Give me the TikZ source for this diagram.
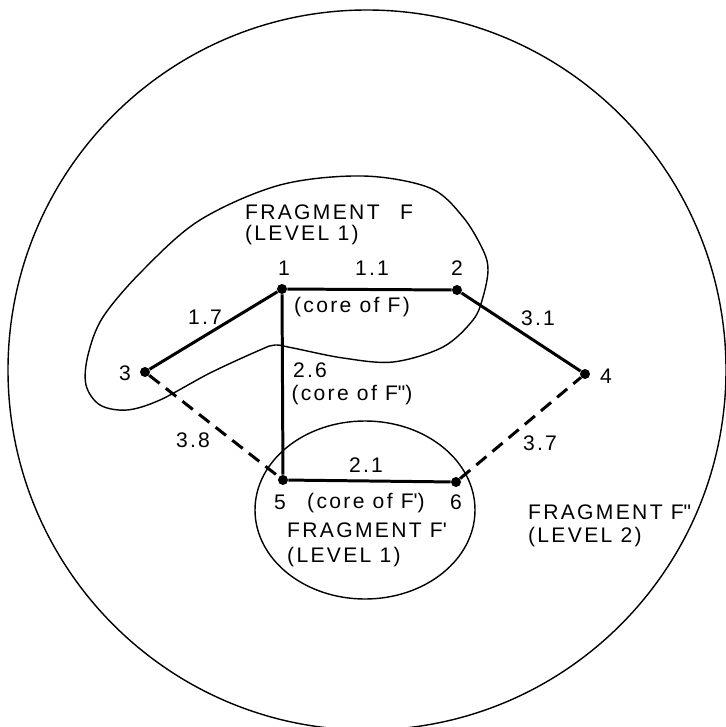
\documentclass[tikz,border=0pt]{standalone}
\usepackage{fontspec}
\setmainfont{Liberation Sans}[LetterSpace=11]
\usetikzlibrary{positioning}

\begin{document}
\begin{tikzpicture}[x=0.2mm,y=-0.2mm,font=\fontsize{12}{14}\selectfont,
  vert/.style={circle,fill=black,inner sep=0pt,minimum size=2mm},
  tree/.style={line width=1.7pt},
  cand/.style={line width=1.7pt,dash pattern=on 7.5pt off 4.5pt},
  outline/.style={line width=0.8pt},
  lbl/.style={inner sep=1pt}]
\useasboundingbox (0,0) rectangle (726,727);

% fragment F'' (level 2)
\draw[outline] (367,370) ellipse [x radius=359, y radius=360];

% fragment F (level 1)
\draw[outline] plot[smooth cycle,tension=0.55] coordinates {
  (363,176) (430,188) (463,217) (483,250) (488,270) (483,297) (473,320)
  (443,347) (393,362) (343,358) (293,348) (275,345) (260,350) (210,373)
  (160,400) (127,410) (100,405) (86,385) (88,355) (103,317) (143,270)
  (200,220) (280,185)};

% fragment F' (level 1)
\draw[outline] (365,510) ellipse [x radius=110, y radius=89];

% vertices
\node[vert] (v1) at (282,289) {};
\node[vert] (v2) at (457,290) {};
\node[vert] (v3) at (145,372) {};
\node[vert] (v4) at (585,374) {};
\node[vert] (v5) at (283,480) {};
\node[vert] (v6) at (456,482) {};

% edges
\draw[tree] (v1) -- (v2);
\draw[tree] (v1) -- (v3);
\draw[tree] (v1) -- (v5);
\draw[tree] (v2) -- (v4);
\draw[tree] (v5) -- (v6);
\draw[cand] (v3) -- (v5);
\draw[cand] (v6) -- (v4);

% vertex numbers
\node[lbl] (n1) at (284,268) {1};
\node[lbl] (n2) at (457,268) {2};
\node[lbl] (n3) at (125,373) {3};
\node[lbl] (n4) at (606,376) {4};
\node[lbl] (n5) at (280,502) {5};
\node[lbl] (n6) at (456,502) {6};

% weights
\node[lbl] (w12) at (372,268) {1.1};
\node[lbl] (w13) at (205,317) {1.7};
\node[lbl] (w15) at (310,370) {2.6};
\node[lbl] (w24) at (538,318) {3.1};
\node[lbl] (w35) at (193,440) {3.8};
\node[lbl] (w56) at (366,465) {2.1};
\node[lbl] (w64) at (540,443) {3.7};

% cores
\node[lbl] (cF) at (352,307) {(core of F)};
\node[lbl] (cFpp) at (352,395) {(core of F\textquotedbl)};
\node[lbl] (cFp) at (366,503) {(core of F\textquotesingle)};

% fragment names
\node[lbl,anchor=west,align=left] (fragF) at (243,225)
  {FRAGMENT\hspace{7pt} F\\[-2pt](LEVEL 1)};
\node[lbl,align=left] (fragFp) at (367,545)
  {FRAGMENT F\textquotesingle\\[0pt](LEVEL 1)};
\node[lbl,anchor=west,align=left] (fragFpp) at (526,526)
  {FRAGMENT F\textquotedbl\\[-1pt](LEVEL 2)};

\end{tikzpicture}
\end{document}
